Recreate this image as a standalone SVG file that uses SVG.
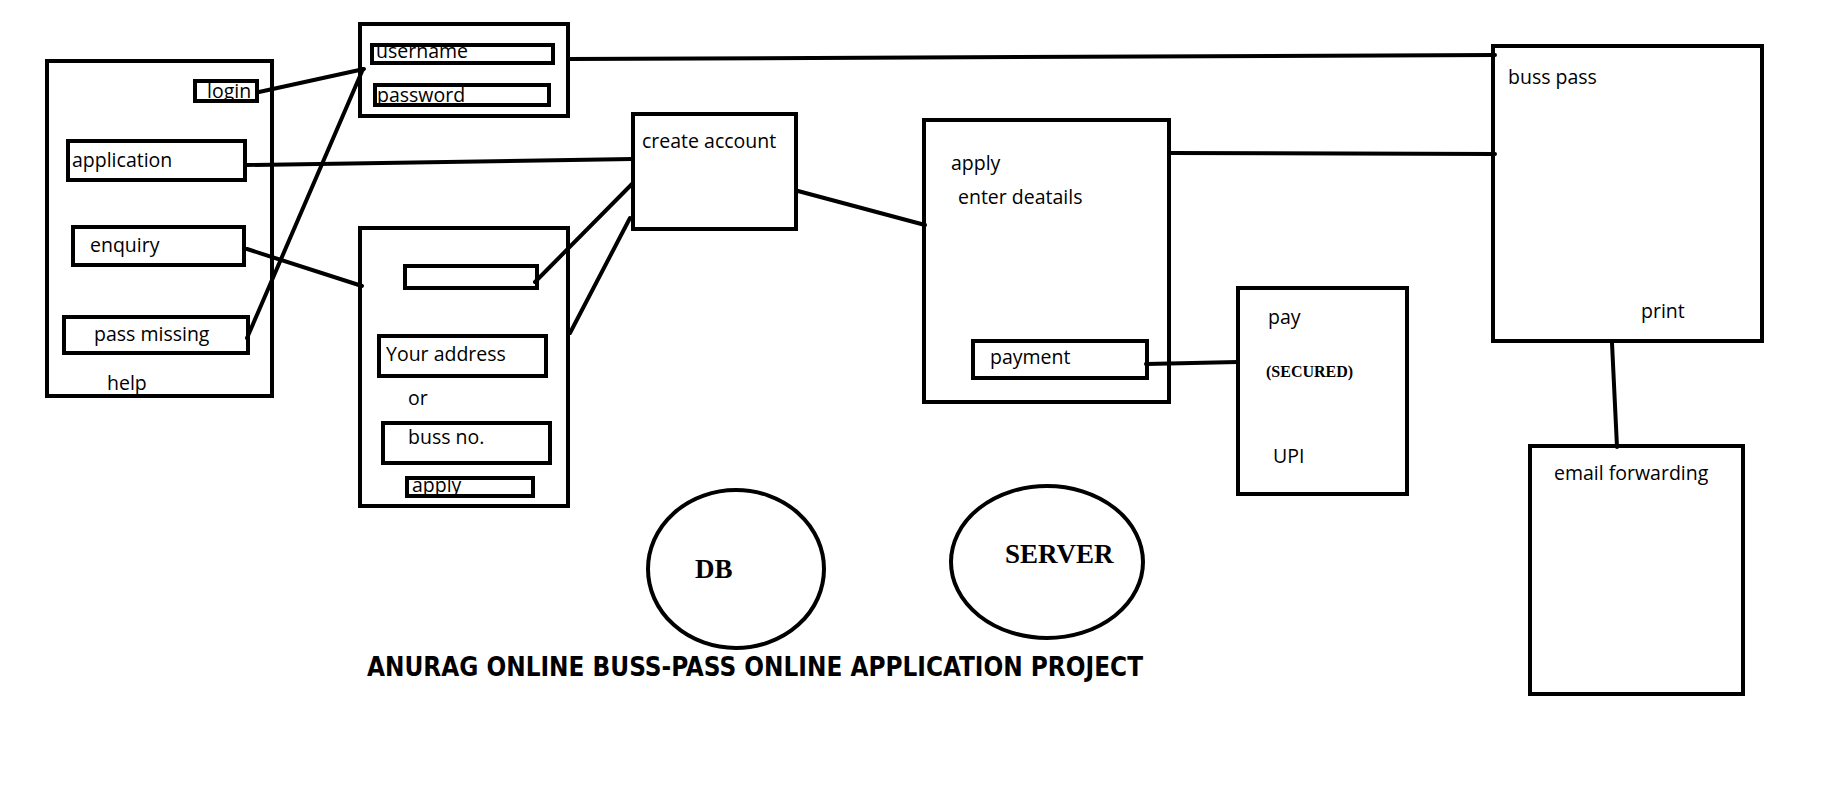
<svg xmlns="http://www.w3.org/2000/svg" width="1829" height="800" viewBox="0 0 1829 800">
<style>
.box{fill:none;stroke:#000;stroke-width:4}
.fld{fill:none;stroke:#000;stroke-width:4}
.ln{fill:none;stroke:#000;stroke-width:4;stroke-linecap:round}
.t{font-family:"Open Sans","Noto Sans",sans-serif;font-size:19.5px;fill:#000}
.serif{font-family:"Liberation Serif","Times New Roman",serif;font-weight:bold;fill:#000}
.title{font-family:Impact,"Liberation Sans Narrow","DejaVu Sans Condensed","Liberation Sans",sans-serif;font-weight:bold;font-size:27px;fill:#000}
</style>
<rect width="1829" height="800" fill="#fff"/>

<g id="connectors">
<line class="ln" x1="259" y1="92" x2="364" y2="69"/>
<line class="ln" x1="247" y1="338" x2="363" y2="69"/>
<line class="ln" x1="247" y1="165" x2="633" y2="159"/>
<line class="ln" x1="247" y1="249" x2="362" y2="286"/>
<line class="ln" x1="535" y1="282" x2="633" y2="183"/>
<line class="ln" x1="570" y1="333" x2="630" y2="218"/>
<line class="ln" x1="798" y1="191" x2="925" y2="225"/>
<line class="ln" x1="569" y1="59" x2="1495" y2="55"/>
<line class="ln" x1="1169" y1="153" x2="1495" y2="154"/>
<line class="ln" x1="1146" y1="364" x2="1238" y2="362"/>
<line class="ln" x1="1612" y1="343" x2="1617" y2="447"/>
</g>

<g id="help">
<rect class="box" x="47" y="61" width="225" height="335"/>
<text class="t" x="207" y="98">login</text>
<rect class="fld" x="195" y="81" width="62" height="20"/>
<text class="t" x="72" y="167">application</text>
<rect class="fld" x="68" y="141" width="177" height="39"/>
<text class="t" x="90" y="252">enquiry</text>
<rect class="fld" x="73" y="227" width="171" height="38"/>
<text class="t" x="94" y="341">pass missing</text>
<rect class="fld" x="64" y="317" width="184" height="36"/>
<text class="t" x="107" y="390">help</text>
</g>

<g id="credentials">
<rect class="box" x="360" y="24" width="208" height="92"/>
<text class="t" x="376" y="58">username</text>
<rect class="fld" x="372" y="45" width="181" height="18"/>
<text class="t" x="377" y="102">password</text>
<rect class="fld" x="375" y="85" width="174" height="20"/>
</g>

<g id="register">
<rect class="box" x="360" y="228" width="208" height="278"/>
<rect class="fld" x="405" y="266" width="132" height="22"/>
<text class="t" x="386" y="361">Your address</text>
<rect class="fld" x="379" y="336" width="167" height="40"/>
<text class="t" x="408" y="405">or</text>
<text class="t" x="408" y="444">buss no.</text>
<rect class="fld" x="383" y="423" width="167" height="40"/>
<text class="t" x="412" y="492">apply</text>
<rect class="fld" x="407" y="478" width="126" height="18"/>
</g>

<g id="create-account">
<rect class="box" x="633" y="114" width="163" height="115"/>
<text class="t" x="642" y="148">create account</text>
</g>

<g id="apply">
<rect class="box" x="924" y="120" width="245" height="282"/>
<text class="t" x="951" y="170">apply</text>
<text class="t" x="958" y="204">enter deatails</text>
<rect class="fld" x="973" y="341" width="174" height="37"/>
<text class="t" x="990" y="364">payment</text>
</g>

<g id="pay">
<rect class="box" x="1238" y="288" width="169" height="206"/>
<text class="t" x="1268" y="324">pay</text>
<text class="serif" x="1266" y="377" font-size="16">(SECURED)</text>
<text class="t" x="1273" y="463">UPI</text>
</g>

<g id="buss-pass">
<rect class="box" x="1493" y="46" width="269" height="295"/>
<text class="t" x="1508" y="84">buss pass</text>
<text class="t" x="1641" y="318">print</text>
</g>

<g id="email-forwarding">
<rect class="box" x="1530" y="446" width="213" height="248"/>
<text class="t" x="1554" y="480">email forwarding</text>
</g>

<g id="db">
<ellipse class="box" cx="736" cy="569" rx="88" ry="79"/>
<text class="serif" x="695" y="578" font-size="27">DB</text>
</g>

<g id="server">
<ellipse class="box" cx="1047" cy="562" rx="96" ry="76"/>
<text class="serif" x="1005" y="563" font-size="27">SERVER</text>
</g>

<g id="title">
<text class="title" x="367" y="676" textLength="776" lengthAdjust="spacingAndGlyphs">ANURAG ONLINE BUSS-PASS ONLINE APPLICATION PROJECT</text>
</g>
</svg>
